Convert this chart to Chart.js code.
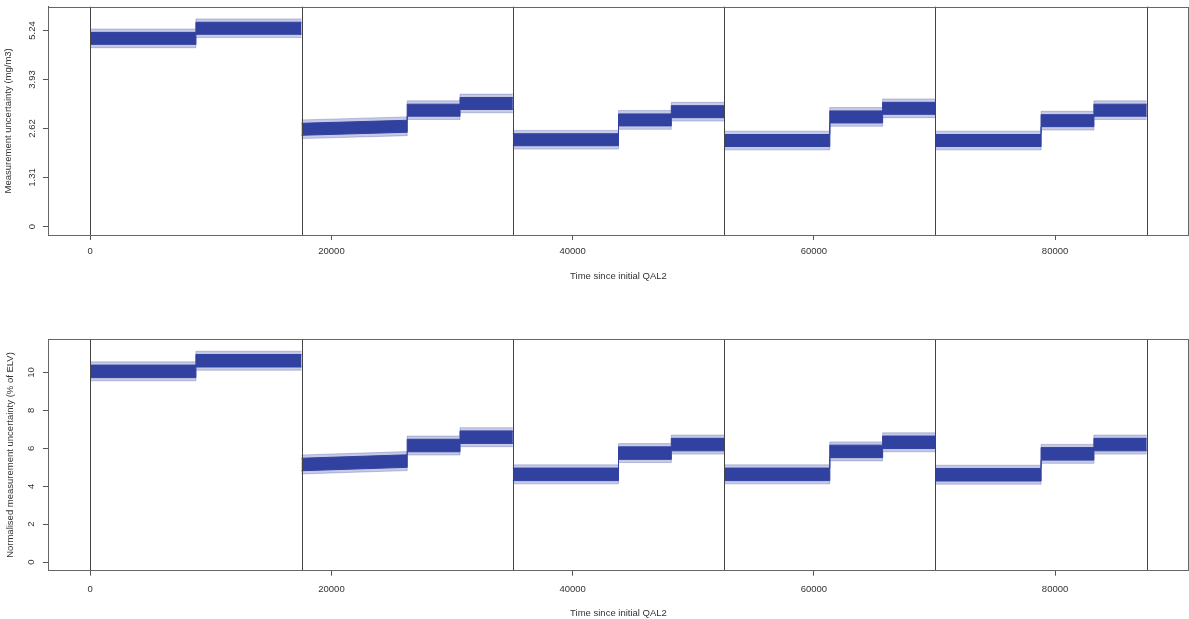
<!DOCTYPE html>
<html><head><meta charset="utf-8">
<script src="https://cdn.jsdelivr.net/npm/chart.js@4.4.0/dist/chart.umd.min.js"></script>
<style>
html,body{margin:0;padding:0;background:#fff;width:1189px;height:619px;overflow:hidden}
#c1{position:absolute;left:0;top:0}
#c2{position:absolute;left:0;top:300px}
</style></head><body>
<canvas id="c1" width="1189" height="300"></canvas>
<canvas id="c2" width="1189" height="319"></canvas>
<script>
// ---- data ----
const segmentBounds = [0, 8760, 17520, 26280, 30660, 35040, 43800, 48180, 52560, 61320, 65700, 70080, 78840, 83220, 87600];
const periodLines = [0, 17520, 35040, 52560, 70080, 87600];
const xTickValues = [0, 20000, 40000, 60000, 80000];
const topTickValues = [0, 1.31, 2.62, 3.93, 5.24];
const bottomTickValues = [0, 2, 4, 6, 8, 10];

const topLevelStart = [5.03, 5.30, 2.60, 3.11, 3.29, 2.32, 2.85, 3.07, 2.30, 2.93, 3.16, 2.30, 2.83, 3.11];
const topLevelEnd   = [5.03, 5.30, 2.68, 3.11, 3.29, 2.32, 2.85, 3.07, 2.30, 2.93, 3.16, 2.30, 2.83, 3.11];
const topCoreSpread = 0.16;
const topSpikeSpread = 0.25;

const bottomLevelStart = [10.06, 10.62, 5.15, 6.15, 6.59, 4.63, 5.75, 6.20, 4.63, 5.84, 6.32, 4.61, 5.71, 6.20];
const bottomLevelEnd   = [10.06, 10.62, 5.33, 6.15, 6.59, 4.63, 5.75, 6.20, 4.63, 5.84, 6.32, 4.61, 5.71, 6.20];
const bottomCoreSpread = 0.33;
const bottomSpikeSpread = 0.50;

// ---- helpers ----
const FONT = {family: '"Liberation Sans", Arial, sans-serif', size: 9.5};
const TEXT = '#333';
const LINE = '#555';
const BAND = '#3142a0';
const HALO = 'rgba(49,66,160,0.28)';

function envelope(starts, ends, offset) {
  const pts = [];
  for (let i = 0; i < starts.length; i++) {
    if (i > 0 && periodLines.includes(segmentBounds[i])) pts.push({x: segmentBounds[i], y: null});
    pts.push({x: segmentBounds[i], y: starts[i] + offset});
    pts.push({x: segmentBounds[i + 1], y: ends[i] + offset});
  }
  return pts;
}

function bandDatasets(starts, ends, core, spike) {
  const base = {pointRadius: 0, tension: 0, borderWidth: 1, spanGaps: false};
  return [
    Object.assign({}, base, {data: envelope(starts, ends, spike), borderColor: HALO, fill: false}),
    Object.assign({}, base, {data: envelope(starts, ends, -spike), borderColor: HALO, backgroundColor: HALO, fill: '-1'}),
    Object.assign({}, base, {data: envelope(starts, ends, core), borderColor: BAND, fill: false}),
    Object.assign({}, base, {data: envelope(starts, ends, -core), borderColor: BAND, backgroundColor: BAND, fill: '-1'})
  ];
}

const framePlugin = {
  id: 'frame',
  afterDatasetsDraw(chart) {
    const {ctx, chartArea: a, scales: {x}} = chart;
    ctx.save();
    ctx.strokeStyle = '#444';
    ctx.lineWidth = 1;
    periodLines.forEach(v => {
      const px = Math.round(x.getPixelForValue(v)) + 0.5;
      ctx.beginPath(); ctx.moveTo(px, a.top); ctx.lineTo(px, a.bottom); ctx.stroke();
    });
    ctx.strokeStyle = '#666';
    ctx.strokeRect(Math.round(a.left) + 0.5, Math.round(a.top) + 0.5,
                   Math.round(a.right - a.left) - 1, Math.round(a.bottom - a.top));
    ctx.restore();
  }
};

function makeChart(id, cfg) {
  return new Chart(document.getElementById(id), {
    type: 'line',
    data: {datasets: bandDatasets(cfg.starts, cfg.ends, cfg.core, cfg.spike)},
    plugins: [framePlugin],
    options: {
      responsive: false, animation: false, devicePixelRatio: 1,
      layout: {padding: {top: cfg.padTop, left: 0, right: 0, bottom: 0}},
      plugins: {legend: {display: false}, tooltip: {enabled: false}},
      scales: {
        x: {
          type: 'linear', min: -3504, max: 91104,
          afterBuildTicks: s => { s.ticks = xTickValues.map(v => ({value: v})); },
          afterFit: s => { s.height = cfg.xHeight; },
          ticks: {autoSkip: false, minRotation: 0, maxRotation: 0, padding: cfg.xTickPad, color: TEXT, font: FONT,
                  callback: v => String(v)},
          grid: {drawOnChartArea: false, drawTicks: true, tickLength: 5, color: LINE},
          border: {display: true, color: LINE},
          title: {display: true, text: 'Time since initial QAL2', color: TEXT, font: FONT,
                  padding: {top: 0, bottom: cfg.xTitlePad}}
        },
        y: {
          type: 'linear', min: cfg.yMin, max: cfg.yMax,
          afterBuildTicks: s => { s.ticks = cfg.yTicks.map(v => ({value: v})); },
          afterFit: s => { s.width = 48; },
          ticks: {minRotation: 90, maxRotation: 90, crossAlign: 'center', padding: cfg.yTickPad, color: TEXT, font: FONT,
                  callback: v => String(v)},
          grid: {drawOnChartArea: false, drawTicks: true, tickLength: 5, color: LINE},
          border: {display: true, color: LINE},
          title: {display: true, text: cfg.yTitle, color: TEXT, font: FONT,
                  padding: {top: cfg.yTitlePad, bottom: 0}}
        }
      }
    }
  });
}

makeChart('c1', {
  starts: topLevelStart, ends: topLevelEnd, core: topCoreSpread, spike: topSpikeSpread,
  padTop: 4, xHeight: 65, xTickPad: 6, xTitlePad: 18.3,
  yMin: -0.226, yMax: 5.876, yTicks: topTickValues, yTickPad: 1, yTitlePad: 2.3,
  yTitle: 'Measurement uncertainty (mg/m3)'
});
makeChart('c2', {
  starts: bottomLevelStart, ends: bottomLevelEnd, core: bottomCoreSpread, spike: bottomSpikeSpread,
  padTop: 39.3, xHeight: 48.3, xTickPad: 8, xTitlePad: 0,
  yMin: -0.45, yMax: 11.75, yTicks: bottomTickValues, yTickPad: 6, yTitlePad: 4.3,
  yTitle: 'Normalised measurement uncertainty (% of ELV)'
});
</script>
</body></html>
